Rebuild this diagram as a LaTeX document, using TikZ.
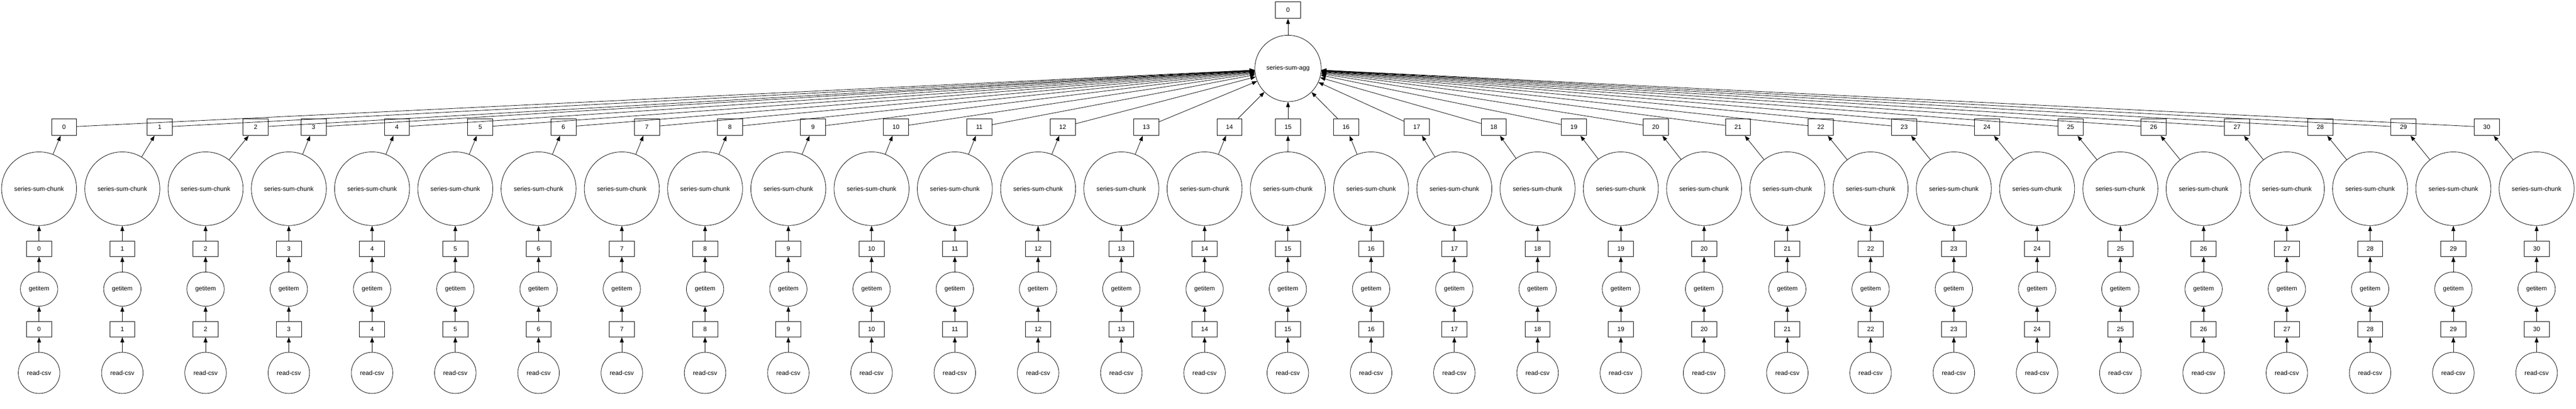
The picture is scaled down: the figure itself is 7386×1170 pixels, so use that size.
\documentclass[tikz,border=0pt]{standalone}
\usepackage{fontspec}
\setmainfont{Liberation Sans}
\usetikzlibrary{shapes.geometric,arrows.meta}
\tikzset{
  boxU/.style={draw, rectangle, line width=1.2pt, minimum width=72pt, minimum height=48pt, inner sep=0pt, font=\fontsize{18}{20}\selectfont},
  boxL/.style={draw, rectangle, line width=1.2pt, minimum width=72pt, minimum height=44pt, inner sep=0pt, font=\fontsize{18}{20}\selectfont},
  oval/.style={draw, ellipse, line width=1.2pt, inner sep=0pt, font=\fontsize{18}{20}\selectfont},
  chunk/.style={oval, minimum width=215pt, minimum height=211pt},
  aggst/.style={oval, minimum width=190pt, minimum height=190pt},
  getst/.style={oval, minimum width=107pt, minimum height=98pt},
  readst/.style={oval, minimum width=119pt, minimum height=118pt},
  edge/.style={line width=1.2pt, -{Triangle[length=15pt,width=11pt]}}
}
\begin{document}
\begin{tikzpicture}[x=1pt,y=-1pt]
\useasboundingbox (0,0) rectangle (7386,1170);
\node[boxU] (top) at (3693,29) {0};
\node[aggst] (agg) at (3693,196) {series-sum-agg};
\draw[edge] (agg) -- (top);
\foreach \i/\ux in {0/183.7, 1/458, 2/733, 3/899, 4/1138, 5/1377, 6/1615.5, 7/1854.7, 8/2093, 9/2331, 10/2569, 11/2808, 12/3047, 13/3286.5, 14/3525, 15/3693, 16/3859.5, 17/4062, 18/4283, 19/4512.6, 20/4747, 21/4983, 22/5220.6, 23/5459.7, 24/5697, 25/5936.5, 26/6175, 27/6414, 28/6652.7, 29/6891.4, 30/7130}{
  \pgfmathsetmacro{\lx}{112+238.7*\i}
  \node[boxU] (ub\i) at (\ux,364) {\i};
  \node[chunk] (ch\i) at (\lx,540.5) {series-sum-chunk};
  \node[boxL] (ba\i) at (\lx,712.5) {\i};
  \node[getst] (gi\i) at (\lx,828) {getitem};
  \node[boxL] (bb\i) at (\lx,943) {\i};
  \node[readst] (rc\i) at (\lx,1068) {read-csv};
  \draw[edge] (rc\i) -- (bb\i);
  \draw[edge] (bb\i) -- (gi\i);
  \draw[edge] (gi\i) -- (ba\i);
  \draw[edge] (ba\i) -- (ch\i);
  \draw[edge] (ch\i) -- (ub\i);
  \draw[edge] (ub\i) -- (agg);
}
\end{tikzpicture}
\end{document}
